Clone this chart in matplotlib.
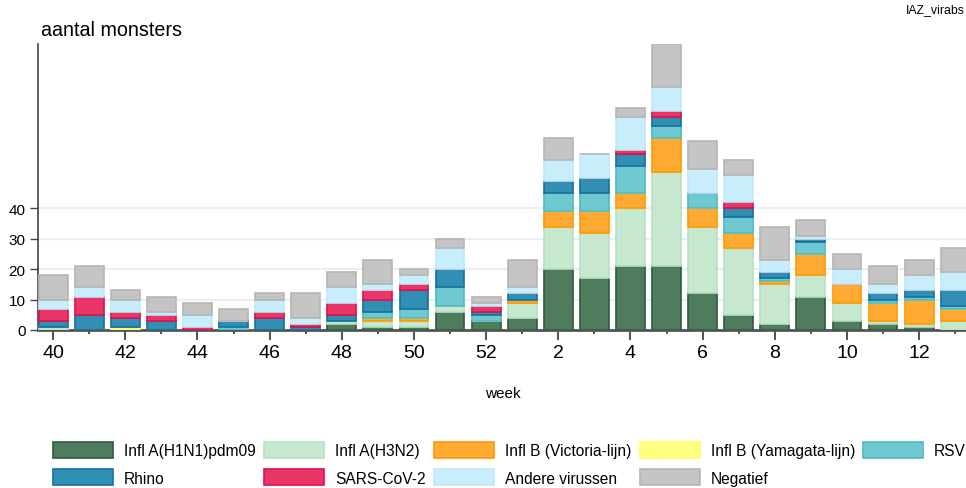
import matplotlib
matplotlib.use("Agg")
import matplotlib.pyplot as plt
import numpy as np

plt.rcParams['font.family'] = ['Liberation Sans', 'DejaVu Sans']

weeks = ['40', '41', '42', '43', '44', '45', '46', '47', '48', '49', '50', '51', '52',
         '1', '2', '3', '4', '5', '6', '7', '8', '9', '10', '11', '12', '13']

h1n1   = [0, 0, 0, 0, 0, 0, 0, 0, 2, 1, 1, 6, 3, 4, 20, 17, 21, 21, 12, 5, 2, 11, 3, 2, 1, 0]
h3n2   = [1, 0, 0, 0, 0, 0, 0, 0, 1, 2, 2, 2, 0, 5, 14, 15, 19, 31, 22, 22, 13, 7, 6, 1, 1, 3]
vic    = [0, 0, 0, 0, 0, 0, 0, 0, 0, 1, 1, 0, 0, 1, 5, 7, 5, 11, 6, 5, 1, 7, 6, 6, 8, 4]
yam    = [0, 0, 1, 0, 0, 0, 0, 0, 0, 0, 0, 0, 0, 0, 0, 0, 0, 0, 0, 0, 0, 0, 0, 0, 0, 0]
rsv    = [0, 0, 0, 0, 0, 1, 0, 0, 0, 2, 3, 6, 2, 0, 6, 6, 9, 4, 5, 5, 1, 4, 0, 1, 1, 1]
rhino  = [2, 5, 3, 3, 0, 2, 4, 1, 2, 4, 6, 6, 1, 2, 4, 5, 4, 3, 0, 3, 2, 1, 0, 2, 2, 5]
sars   = [4, 6, 2, 2, 1, 0, 2, 1, 4, 3, 2, 0, 2, 0, 0, 0, 1, 2, 0, 2, 0, 0, 0, 0, 0, 0]
andere = [3, 3, 4, 1, 4, 0, 4, 2, 5, 2, 3, 7, 1, 2, 7, 8, 11, 8, 8, 9, 4, 1, 5, 3, 5, 6]
neg    = [8, 7, 3, 5, 4, 4, 2, 8, 5, 8, 2, 3, 2, 9, 7, 0, 3, 14, 9, 5, 11, 5, 5, 6, 5, 8]

series_names = ['Infl A(H1N1)pdm09', 'Infl A(H3N2)', 'Infl B (Victoria-lijn)',
                'Infl B (Yamagata-lijn)', 'RSV', 'Rhino', 'SARS-CoV-2',
                'Andere virussen', 'Negatief']
series_vals = [h1n1, h3n2, vic, yam, rsv, rhino, sars, andere, neg]
fills = ['#4f7c5c', '#c5e8cf', '#ffaa33', '#ffff80', '#70c8d0', '#328fb4', '#ea3568', '#c8eefc', '#c4c4c4']
edges = ['#2f5a3c', '#b8e0c4', '#ff9a00', '#ffff66', '#4cbac6', '#15729e', '#e0104e', '#bfe9fa', '#b5b5b5']

fig = plt.figure(figsize=(9.66, 4.89), dpi=100)
ax = fig.add_axes([38/966, 1 - 331/489, 1 - 38/966, (331 - 45)/489])

x = np.arange(len(weeks))
bottom = np.zeros(len(weeks))
handles = {}
for name, vals, fc, ec in zip(series_names, series_vals, fills, edges):
    v = np.array(vals, dtype=float)
    b = ax.bar(x, v, 0.8, bottom=bottom, color=fc, edgecolor=ec, linewidth=1.2, label=name, zorder=3)
    handles[name] = b
    bottom += v

ax.set_xlim(-0.42, 25.3)
ax.set_ylim(0, 94)
ax.set_yticks([0, 10, 20, 30, 40])
ax.tick_params(axis='y', labelsize=11, length=6, width=1, color='#444444', pad=3)
for yv in [10, 20, 30, 40]:
    ax.axhline(yv, color='#e9eff3', lw=1.6, zorder=1)

ax.set_xticks(x[::2])
ax.set_xticklabels([weeks[i] for i in range(0, len(weeks), 2)])
ax.set_xticks(x[1::2], minor=True)
ax.tick_params(axis='x', which='major', labelsize=14, length=7, width=1.2, color='#333333', pad=3)
ax.tick_params(axis='x', which='minor', length=3, width=1.2, color='#333333')

for s in ['top', 'right']:
    ax.spines[s].set_visible(False)
ax.spines['left'].set_color('#444444')
ax.spines['left'].set_linewidth(1.2)
ax.spines['bottom'].set_color('#555555')
ax.spines['bottom'].set_linewidth(2)

fig.text(41/966, 1 - 30/489, 'aantal monsters', fontsize=14.2, ha='left', va='center')
fig.text(965/966, 1 - 10/489, 'IAZ_virabs', fontsize=8.8, ha='right', va='center')
fig.text(503/966, 1 - 394/489, 'week', fontsize=11, ha='center', va='center')

order = ['Infl A(H1N1)pdm09', 'Rhino', 'Infl A(H3N2)', 'SARS-CoV-2',
         'Infl B (Victoria-lijn)', 'Andere virussen', 'Infl B (Yamagata-lijn)',
         'Negatief', 'RSV']
fig.legend([handles[n] for n in order], order, ncol=5, loc='upper left',
           bbox_to_anchor=(53/966, 1 - 443/489), frameon=False, fontsize=11.2,
           handlelength=3.85, handleheight=1.22, handletextpad=0.7,
           columnspacing=0.55, labelspacing=0.7, borderpad=0, borderaxespad=0)

fig.savefig('out.png', dpi=100)
